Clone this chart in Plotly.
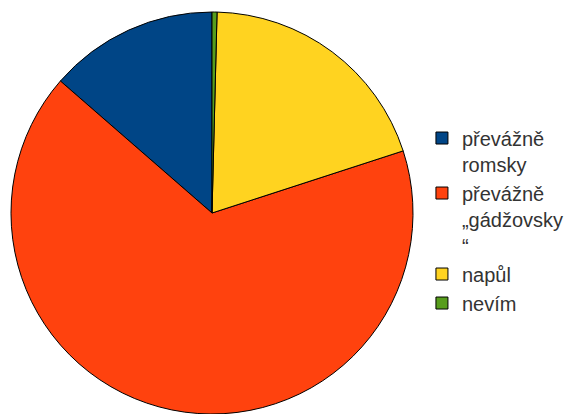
import plotly.graph_objects as go

labels = ["převážně<br>romsky", "převážně<br>„gádžovsky<br>“", "napůl", "nevím"]
values = [13.6, 66.4, 19.6, 0.4]
colors = ["#004586", "#ff420e", "#ffd320", "#579d1c"]

# first slice (blue) starts at 12 o'clock going counterclockwise
rot = -values[0] / sum(values) * 360

fig = go.Figure(go.Pie(
    labels=labels,
    values=values,
    sort=False,
    direction="counterclockwise",
    rotation=rot,
    marker=dict(colors=colors, line=dict(color="#000000", width=1)),
    textinfo="none",
    hoverinfo="label+percent",
    domain=dict(x=[11/582, 413/582], y=[0, 1]),
))

fig.update_layout(
    width=582, height=414,
    margin=dict(l=0, r=0, t=12, b=0),
    paper_bgcolor="white",
    plot_bgcolor="white",
    showlegend=True,
    legend=dict(
        x=0.725, xanchor="left",
        y=0.735, yanchor="top",
        valign="top",
        font=dict(family="Liberation Sans, Arial, sans-serif", size=20, color="#333333"),
        bgcolor="rgba(0,0,0,0)",
        itemclick=False,
    ),
)

fig.write_html("out.html", config={"displayModeBar": False},
               post_script="document.body.style.margin='0';")
